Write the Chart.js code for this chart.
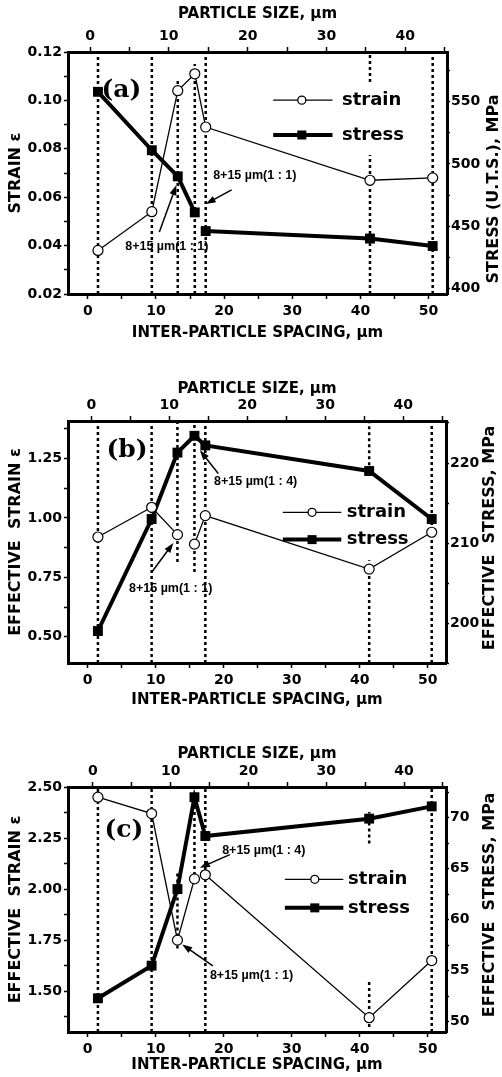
<!DOCTYPE html>
<html>
<head>
<meta charset="utf-8">
<script src="https://cdn.jsdelivr.net/npm/chart.js"></script>
<style>
  html, body { margin: 0; padding: 0; background: #fff; }
  body { width: 502px; height: 1077px; position: relative; overflow: hidden; }
  canvas { position: absolute; left: 0; }
</style>
</head>
<body>
<canvas id="chartA" width="502" height="344" style="top:0px"></canvas>
<canvas id="chartB" width="502" height="336" style="top:375px"></canvas>
<canvas id="chartC" width="502" height="336" style="top:740px"></canvas>
<script>
// inter-particle spacing (um) of the seven specimens
const spacing = [1.5, 9.4, 13.2, 15.7, 17.3, 41.4, 50.6];

// (a) tensile strain / U.T.S.
const strainA = [0.038, 0.054, 0.104, 0.111, 0.089, 0.067, 0.068];
const stressA = [558, 511, 490, 461, 446, 440, 434];

// (b) effective strain / stress
const strainB = [0.92, 1.045, 0.93, 0.89, 1.01, 0.785, 0.94];
const stressB = [199.0, 213.0, 221.3, 223.4, 222.2, 219.0, 213.0];

// (c) effective strain / stress
const strainC = [2.45, 2.37, 1.75, 2.05, 2.07, 1.37, 1.65];
const stressC = [52.3, 55.5, 63.0, 72.0, 68.2, 69.9, 71.1];

// labelled ticks
const spacingTicks = [0, 10, 20, 30, 40, 50];
const sizeTicks = [0, 10, 20, 30, 40];
const strainTicksA = [0.02, 0.04, 0.06, 0.08, 0.10, 0.12];
const stressTicksA = [400, 450, 500, 550];
const strainTicksB = [0.50, 0.75, 1.00, 1.25];
const stressTicksB = [200, 210, 220];
const strainTicksC = [1.50, 1.75, 2.00, 2.25, 2.50];
const stressTicksC = [50, 55, 60, 65, 70];

const BLACK = "#000";
const tickFont = { family: "DejaVu Sans", weight: "bold", size: 14 };

// only print a label on the listed values, the rest are minor ticks
const labelOn = (list, decimals) => (v) =>
  list.some((t) => Math.abs(t - v) < 1e-6) ? v.toFixed(decimals) : "";

const axis = (extra) => ({
  type: "linear",
  grid: { drawOnChartArea: false, color: BLACK, tickLength: 5, tickWidth: 1.5 },
  border: { color: BLACK, width: 3 },
  ...extra,
});

function drawArrow(ctx, x1, y1, x2, y2) {
  const a = Math.atan2(y2 - y1, x2 - x1);
  ctx.beginPath();
  ctx.moveTo(x1, y1);
  ctx.lineTo(x2 - 6 * Math.cos(a), y2 - 6 * Math.sin(a));
  ctx.stroke();
  ctx.beginPath();
  ctx.moveTo(x2, y2);
  ctx.lineTo(x2 - 10 * Math.cos(a) + 3.5 * Math.sin(a), y2 - 10 * Math.sin(a) - 3.5 * Math.cos(a));
  ctx.lineTo(x2 - 10 * Math.cos(a) - 3.5 * Math.sin(a), y2 - 10 * Math.sin(a) + 3.5 * Math.cos(a));
  ctx.closePath();
  ctx.fill();
}

// panel letter, in-plot legend, "8+15" notes and the right axis title
const figurePlugin = (p) => ({
  id: "figure",
  afterDatasetsDraw(chart) {
    const { ctx } = chart;
    const x = chart.scales.x;
    const y = chart.scales.y;
    const px = (v) => x.getPixelForValue(v);
    const py = (v) => y.getPixelForValue(v);
    ctx.save();
    ctx.fillStyle = BLACK;
    ctx.strokeStyle = BLACK;

    ctx.font = 'bold 25px "DejaVu Serif"';
    ctx.textAlign = "left";
    ctx.textBaseline = "middle";
    ctx.fillText(p.letter, px(p.letterAt[0]), py(p.letterAt[1]));

    ctx.font = 'bold 12.5px "Liberation Sans"';
    ctx.textAlign = "center";
    ctx.lineWidth = 1.5;
    p.notes.forEach((n) => {
      ctx.fillText(n.text, px(n.at[0]), py(n.at[1]));
      drawArrow(ctx, px(n.from[0]), py(n.from[1]), px(n.to[0]), py(n.to[1]));
    });

    // legend
    const L = p.legend;
    const x0 = px(L.x0), x1 = px(L.x1), xc = px(L.xc), xt = px(L.xt);
    const yS = py(L.yStrain), yT = py(L.yStress);
    ctx.lineWidth = 1.3;
    ctx.beginPath(); ctx.moveTo(x0, yS); ctx.lineTo(x1, yS); ctx.stroke();
    ctx.fillStyle = "#fff";
    ctx.beginPath(); ctx.arc(xc, yS, 4, 0, Math.PI * 2); ctx.fill(); ctx.stroke();
    ctx.fillStyle = BLACK;
    ctx.lineWidth = 4;
    ctx.beginPath(); ctx.moveTo(x0, yT); ctx.lineTo(x1, yT); ctx.stroke();
    ctx.fillRect(xc - 4.5, yT - 4.5, 9, 9);
    ctx.font = 'bold 18px "DejaVu Sans"';
    ctx.textAlign = "left";
    ctx.fillText("strain", xt, yS);
    ctx.fillText("stress", xt, yT);
    ctx.restore();
  },
  afterDraw(chart) {
    const { ctx } = chart;
    ctx.save();
    ctx.translate(p.rightTitle.x, p.rightTitle.y);
    ctx.rotate(-Math.PI / 2);
    ctx.font = 'bold 16px "DejaVu Sans"';
    ctx.fillStyle = BLACK;
    ctx.textAlign = "center";
    ctx.textBaseline = "middle";
    ctx.fillText(p.rightTitle.text, 0, 0);
    ctx.restore();
  },
});

function makePanel(id, p) {
  // dotted guide lines at every specimen, broken where the figure breaks them
  const guidePts = [];
  spacing.forEach((x, i) => {
    p.guides[i].forEach(([y0, y1]) => {
      guidePts.push({ x, y: y0 }, { x, y: y1 }, { x, y: null });
    });
  });

  const ctx = document.getElementById(id);
  new Chart(ctx, {
    type: "line",
    data: {
      datasets: [
        {
          label: "strain",
          data: spacing.map((x, i) => ({ x, y: p.strain[i] })),
          yAxisID: "y",
          borderColor: BLACK,
          borderWidth: 1.3,
          pointStyle: "circle",
          pointRadius: 5,
          pointBorderWidth: 1.2,
          pointBackgroundColor: "#fff",
          pointBorderColor: BLACK,
          tension: 0,
          segment: {
            borderColor: (c) => (c.p0DataIndex === p.strainGap ? "rgba(0,0,0,0)" : BLACK),
          },
        },
        {
          label: "stress",
          data: spacing.map((x, i) => ({ x, y: p.stress[i] })),
          yAxisID: "y2",
          borderColor: BLACK,
          borderWidth: 4,
          pointStyle: "rect",
          pointRadius: 7,
          pointBorderWidth: 0,
          pointBackgroundColor: BLACK,
          tension: 0,
          segment: {
            borderColor: (c) => (c.p0DataIndex === p.stressGap ? "rgba(0,0,0,0)" : BLACK),
          },
        },
        {
          label: "guides",
          data: guidePts,
          yAxisID: "y",
          borderColor: BLACK,
          borderWidth: 2.5,
          borderDash: [3, 3],
          pointRadius: 0,
          spanGaps: false,
        },
      ],
    },
    options: {
      responsive: false,
      devicePixelRatio: 1,
      animation: false,
      events: [],
      layout: { padding: 0 },
      plugins: { legend: { display: false }, tooltip: { enabled: false } },
      scales: {
        x: axis({
          position: "bottom",
          min: -2.9,
          max: 52.7,
          ticks: { stepSize: 5, autoSkip: false, maxRotation: 0, padding: 4, color: BLACK, font: tickFont, includeBounds: false, callback: labelOn(spacingTicks, 0) },
          title: { display: true, text: "INTER-PARTICLE SPACING, µm", color: BLACK, padding: { top: 0, bottom: 2 }, font: { family: "DejaVu Sans", weight: "bold", size: 15 } },
          afterFit: (s) => { s.height = p.bottomH; },
        }),
        x2: axis({
          position: "top",
          min: p.sizeMin,
          max: p.sizeMax,
          ticks: { stepSize: 5, autoSkip: false, maxRotation: 0, padding: 2, color: BLACK, font: tickFont, includeBounds: false, callback: labelOn(sizeTicks, 0) },
          title: { display: true, text: "PARTICLE SIZE, µm", color: BLACK, padding: { top: 5, bottom: 0 }, font: { family: "DejaVu Sans", weight: "bold", size: 15 } },
          afterFit: (s) => { s.height = p.topH; },
        }),
        y: axis({
          position: "left",
          min: p.strainMin,
          max: p.strainMax,
          grid: { drawOnChartArea: false, color: BLACK, tickLength: 4, tickWidth: 1.5 },
          ticks: { stepSize: p.strainStep, autoSkip: false, padding: 2, color: BLACK, font: tickFont, includeBounds: false, callback: labelOn(p.strainTicks, 2) },
          title: { display: true, text: p.leftTitle, color: BLACK, padding: { top: 6, bottom: 0 }, font: { family: "DejaVu Sans", weight: "bold", size: 16 } },
          afterFit: (s) => { s.width = 68; },
        }),
        y2: axis({
          position: "right",
          min: p.stressMin,
          max: p.stressMax,
          grid: { drawOnChartArea: false, color: BLACK, tickLength: 3, tickWidth: 1.5 },
          ticks: { stepSize: p.stressStep, autoSkip: false, padding: 1, color: BLACK, font: tickFont, includeBounds: false, callback: labelOn(p.stressTicks, 0) },
          afterFit: (s) => { s.width = p.rightW; },
        }),
      },
    },
    plugins: [figurePlugin(p)],
  });
}

makePanel("chartA", {
  strain: strainA, stress: stressA, stressGap: 3,
  strainMin: 0.02, strainMax: 0.12, strainStep: 0.01, strainTicks: strainTicksA,
  stressMin: 395.4, stressMax: 590, stressStep: 25, stressTicks: stressTicksA,
  sizeMin: -2.8, sizeMax: 45.3,
  topH: 52, bottomH: 50, rightW: 55,
  leftTitle: "STRAIN ε",
  rightTitle: { text: "STRESS (U.T.S.), MPa", x: 494, y: 189 },
  letter: "(a)", letterAt: [2.0, 0.1042],
  legend: { x0: 27.2, x1: 35.9, xc: 31.4, xt: 37.3, yStrain: 0.1001, yStress: 0.0857 },
  notes: [
    { text: "8+15 µm(1 : 1)", at: [24.5, 0.0691], from: [21.1, 0.063], to: [17.3, 0.0572] },
    { text: "8+15 µm(1 : 1)", at: [11.6, 0.0396], from: [10.5, 0.0456], to: [13.0, 0.065] },
  ],
  guides: [
    [[0.02, 0.12]], [[0.02, 0.12]], [[0.02, 0.108]], [[0.02, 0.115]],
    [[0.02, 0.12]], [[0.1076, 0.12], [0.02, 0.0774]], [[0.02, 0.12]],
  ],
});

makePanel("chartB", {
  strain: strainB, stress: stressB, strainGap: 2,
  strainMin: 0.39, strainMax: 1.408, strainStep: 0.125, strainTicks: strainTicksB,
  stressMin: 195, stressMax: 225.25, stressStep: 5, stressTicks: stressTicksB,
  sizeMin: -3.0, sizeMax: 45.5,
  topH: 46, bottomH: 48, rightW: 56,
  leftTitle: "EFFECTIVE  STRAIN ε",
  rightTitle: { text: "EFFECTIVE  STRESS, MPa", x: 490, y: 163 },
  letter: "(b)", letterAt: [2.75, 1.285],
  legend: { x0: 28.7, x1: 37.3, xc: 33.0, xt: 38.1, yStrain: 1.024, yStress: 0.909 },
  notes: [
    { text: "8+15 µm(1 : 4)", at: [24.7, 1.152], from: [19.2, 1.187], to: [16.5, 1.285] },
    { text: "8+15 µm(1 : 1)", at: [12.2, 0.703], from: [9.44, 0.773], to: [12.6, 0.895] },
  ],
  guides: [
    [[0.39, 1.408]], [[0.39, 1.408]], [[0.815, 1.408]], [[0.773, 1.408]],
    [[0.39, 1.408]], [[1.222, 1.408], [0.39, 0.822]], [[0.39, 1.408]],
  ],
});

makePanel("chartC", {
  strain: strainC, stress: stressC, strainGap: 3,
  strainMin: 1.30, strainMax: 2.50, strainStep: 0.125, strainTicks: strainTicksC,
  stressMin: 49, stressMax: 73, stressStep: 2.5, stressTicks: stressTicksC,
  sizeMin: -3.2, sizeMax: 45.4,
  topH: 47, bottomH: 44, rightW: 56,
  leftTitle: "EFFECTIVE  STRAIN ε",
  rightTitle: { text: "EFFECTIVE  STRESS, MPa", x: 490, y: 165 },
  letter: "(c)", letterAt: [2.46, 2.288],
  legend: { x0: 29.0, x1: 37.6, xc: 33.4, xt: 38.3, yStrain: 2.048, yStress: 1.908 },
  notes: [
    { text: "8+15 µm(1 : 4)", at: [25.9, 2.19], from: [20.9, 2.169], to: [16.5, 2.104] },
    { text: "8+15 µm(1 : 1)", at: [24.1, 1.575], from: [18.4, 1.624], to: [13.9, 1.729] },
  ],
  guides: [
    [[1.30, 2.50]], [[1.30, 2.50]], [[1.709, 2.084]], [[2.04, 2.47]],
    [[1.30, 2.50]], [[2.223, 2.378], [1.325, 1.554]], [[1.30, 2.50]],
  ],
});
</script>
</body>
</html>
